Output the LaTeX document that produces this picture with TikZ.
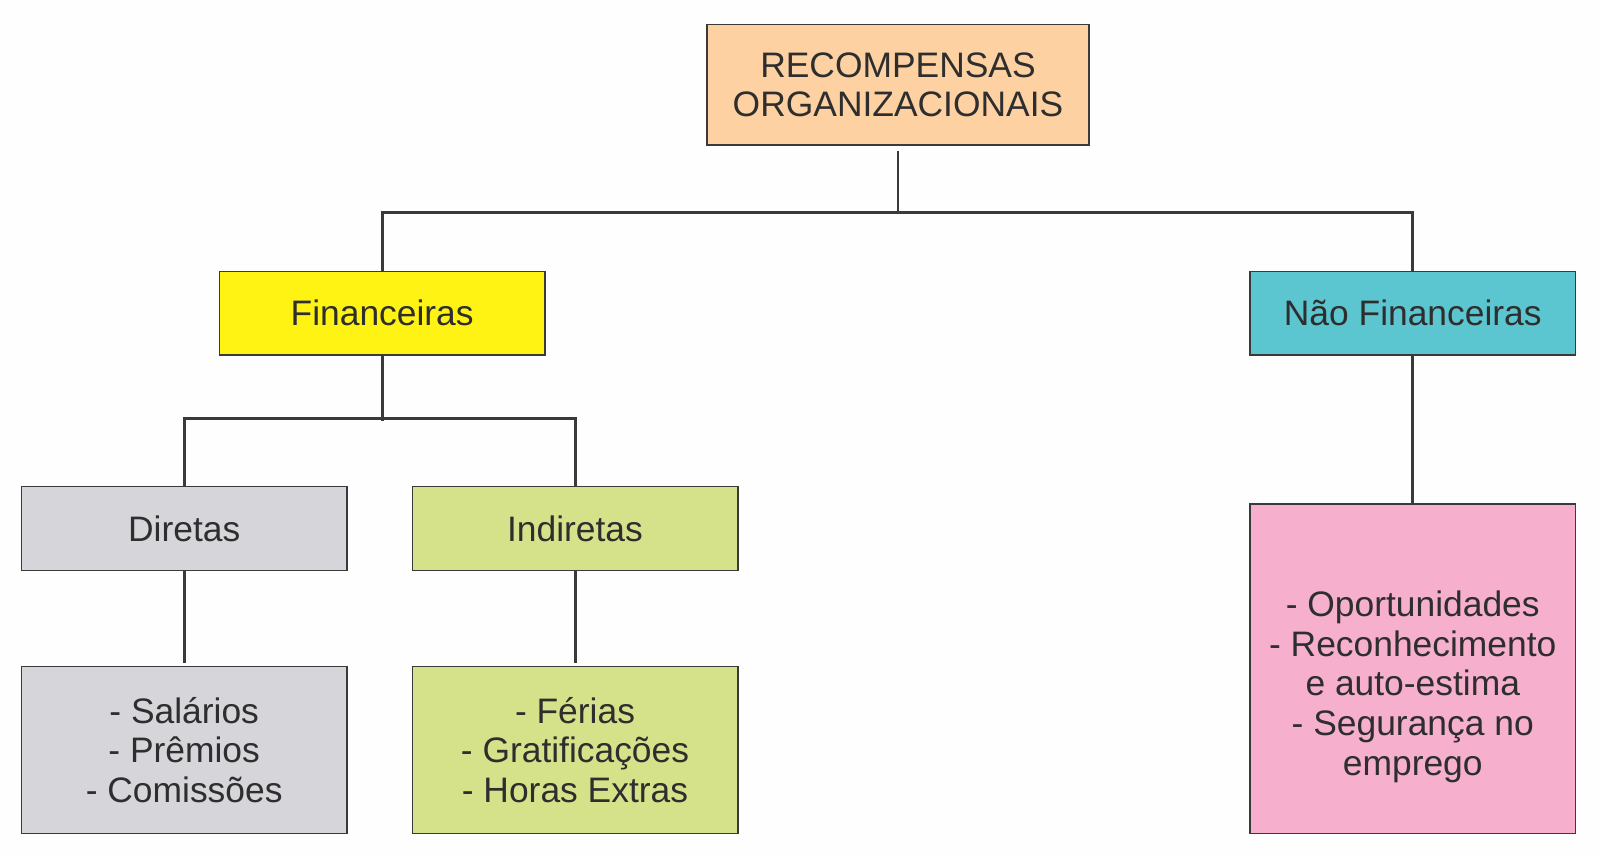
\documentclass[tikz,border=0pt]{standalone}
\usepackage{fontspec}
\setmainfont{Liberation Sans}
\definecolor{bg}{HTML}{FDFEFD}
\definecolor{peach}{HTML}{FDD1A1}
\definecolor{yel}{HTML}{FFF314}
\definecolor{cyn}{HTML}{5BC6D0}
\definecolor{gry}{HTML}{D6D5D9}
\definecolor{grn}{HTML}{D6E28A}
\definecolor{pnk}{HTML}{F6AFCD}
\definecolor{ink}{HTML}{2E2E2E}
\definecolor{edge}{HTML}{3A3A3A}
\begin{document}
\begin{tikzpicture}[x=1.0204pt,y=-1.0204pt,
  box/.style={draw=edge, line width=1.5pt, rectangle, inner sep=0pt, align=center,
    text=ink, font=\fontsize{35.4}{39.3}\selectfont},
  conn/.style={draw=edge, line width=3pt},
  thinconn/.style={draw=edge, line width=1.5pt}]
\fill[bg] (0,0) rectangle (1568,840.8);
\useasboundingbox (0,0) rectangle (1568,840.8);
\node[box, fill=peach, minimum width=381.6pt, minimum height=120.4pt] (top) at (880,83) {RECOMPENSAS\\ORGANIZACIONAIS};
\node[box, fill=yel, minimum width=325.5pt, minimum height=83.7pt] (fin) at (374.5,307) {Financeiras};
\node[box, fill=cyn, minimum width=325.5pt, minimum height=83.7pt] (nf) at (1384.5,307) {Não Financeiras};
\node[box, fill=gry, minimum width=325.5pt, minimum height=83.7pt] (dir) at (180.5,518) {Diretas};
\node[box, fill=grn, minimum width=325.5pt, minimum height=83.7pt] (ind) at (563.5,518) {Indiretas};
\node[box, fill=gry, minimum width=325.5pt, minimum height=167.3pt] (dirl) at (180.5,735) {- Salários\\- Prêmios\\- Comissões};
\node[box, fill=grn, minimum width=325.5pt, minimum height=167.3pt] (indl) at (563.5,735) {- Férias\\- Gratificações\\- Horas Extras};
\node[box, fill=pnk, minimum width=325.5pt, minimum height=329.6pt] (nfl) at (1384.5,655.5) {};
\node[text=ink, align=center, font=\fontsize{35.4}{39.6}\selectfont, inner sep=0pt] (nfltxt) at (1384.5,673) {- Oportunidades\\- Reconhecimento\\e auto-estima\\- Segurança no\\emprego};
\coordinate (j1) at (880,208);
\coordinate (j2) at (374.5,410);
\coordinate (j2b) at (374.5,413);
\draw[thinconn, shorten <=5pt] (top.south) -- (j1);
\draw[conn] (fin.north) |- (j1) -| (nf.north);
\draw[conn] (fin.south) -- (j2b);
\draw[conn] (dir.north) |- (j2) -| (ind.north);
\draw[conn, shorten >=3pt] (dir.south) -- (dirl.north);
\draw[conn, shorten >=3pt] (ind.south) -- (indl.north);
\draw[conn] (nf.south) -- (nfl.north);
\end{tikzpicture}
\end{document}
